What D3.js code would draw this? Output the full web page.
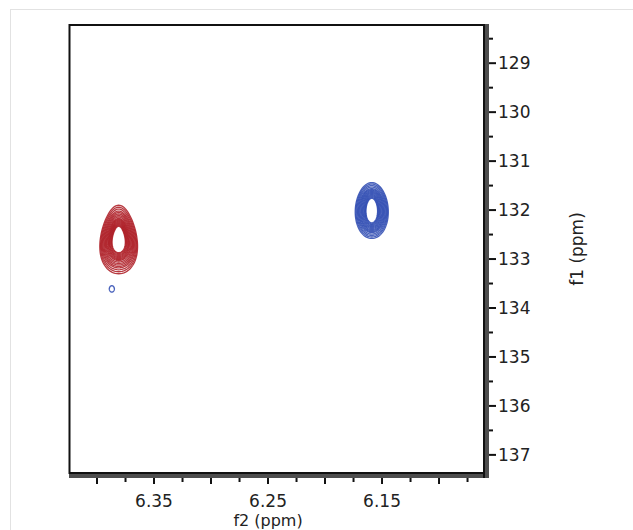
<!DOCTYPE html>
<html>
<head>
<meta charset="utf-8">
<script src="https://cdn.jsdelivr.net/npm/d3@7"></script>
<style>
  body { margin: 0; background: #fff; }
  svg { display: block; font-family: "DejaVu Sans", Verdana, sans-serif; }
</style>
</head>
<body>
<div id="chart"></div>
<script>
// peak centres (f2 ppm, f1 ppm)
var peakNames = ["red", "blue", "blueSmall"];
var peakF2 = [6.381, 6.159, 6.387];
var peakF1 = [132.60, 132.01, 133.61];
// contour ring half widths, outer to inner (ppm)
var redRingsF2 = [0.0162, 0.0155, 0.0148, 0.0141, 0.0134, 0.0127, 0.0120, 0.0113, 0.0106, 0.0099, 0.0092, 0.0086, 0.0080, 0.0074, 0.0068, 0.0062, 0.0057];
var redRingsF1 = [0.70, 0.66, 0.62, 0.58, 0.55, 0.52, 0.49, 0.46, 0.43, 0.41, 0.39, 0.37, 0.35, 0.33, 0.31, 0.29, 0.27];
var blueRingsF2 = [0.0145, 0.0138, 0.0131, 0.0124, 0.0117, 0.0110, 0.0103, 0.0096, 0.0089, 0.0082, 0.0075, 0.0068, 0.0062, 0.0056, 0.0051];
var blueRingsF1 = [0.57, 0.54, 0.51, 0.48, 0.45, 0.43, 0.41, 0.39, 0.37, 0.35, 0.33, 0.31, 0.29, 0.27, 0.25];
var smallRingsF2 = [0.0022];
var smallRingsF1 = [0.065];
var peakColors = ["#ac1820", "#2a48b0", "#2a48b0"];
var peakEgg = [0.22, 0.05, 0]; // how much wider the bottom is than the top

var xTicks = [6.40, 6.375, 6.35, 6.325, 6.30, 6.275, 6.25, 6.225, 6.20, 6.175, 6.15, 6.125, 6.10, 6.075];
var xLabels = [6.35, 6.25, 6.15];
var yTicks = [129, 130, 131, 132, 133, 134, 135, 136, 137];
var yMinor = [128.5, 129.5, 130.5, 131.5, 132.5, 133.5, 134.5, 135.5, 136.5];

var W = 633, H = 530;
var L = 70, T = 25, R = 486, B = 473;

var svg = d3.select("#chart").append("svg")
    .attr("width", W)
    .attr("height", H);

// faint outer frame
svg.append("rect")
    .attr("x", 10.5).attr("y", 9.5)
    .attr("width", 640).attr("height", 540)
    .attr("fill", "none")
    .attr("stroke", "#e2e2e2");

var x = d3.scaleLinear().domain([6.4237, 6.0588]).range([L, R]);
var y = d3.scaleLinear().domain([128.22, 137.37]).range([T, B]);

// plot box
svg.append("rect")
    .attr("x", L - 0.5).attr("y", T)
    .attr("width", R - L).attr("height", B - T)
    .attr("fill", "#fff")
    .attr("stroke", "#111")
    .attr("stroke-width", 2);

// contours
var rings = [
    { f2: redRingsF2, f1: redRingsF1 },
    { f2: blueRingsF2, f1: blueRingsF1 },
    { f2: smallRingsF2, f1: smallRingsF1 }
];

var line = d3.line().curve(d3.curveLinearClosed);

peakNames.forEach(function(name, p) {
    var cx = x(peakF2[p]), cy = y(peakF1[p]);
    var g = svg.append("g").attr("class", "peak " + name);
    rings[p].f2.forEach(function(dx, i) {
        var rx = Math.abs(x(peakF2[p] + dx) - cx);
        var ry = Math.abs(y(peakF1[p] + rings[p].f1[i]) - cy);
        var pts = d3.range(0, 2 * Math.PI, Math.PI / 40).map(function(t) {
            var s = Math.sin(t);
            return [cx + rx * Math.cos(t) * (1 + peakEgg[p] * s), cy + ry * s];
        });
        g.append("path")
            .attr("d", line(pts))
            .attr("fill", "none")
            .attr("stroke", peakColors[p])
            .attr("stroke-width", p == 2 ? 1.4 : 1.3)
            .attr("stroke-opacity", 0.85);
    });
});

// thick bottom and right axis bars
svg.append("rect")
    .attr("x", L - 1).attr("y", B - 1)
    .attr("width", R - L + 3).attr("height", 6)
    .attr("fill", "#4d4d4d");
svg.append("line")
    .attr("x1", L - 1).attr("x2", R + 2)
    .attr("y1", B).attr("y2", B)
    .attr("stroke", "#111").attr("stroke-width", 2);
svg.append("rect")
    .attr("x", R - 3).attr("y", T - 1)
    .attr("width", 6).attr("height", B - T + 6)
    .attr("fill", "#4d4d4d");
svg.append("line")
    .attr("x1", R - 2).attr("x2", R - 2)
    .attr("y1", T - 1).attr("y2", B + 5)
    .attr("stroke", "#111").attr("stroke-width", 2);

// x ticks
svg.selectAll(".xt").data(xTicks).enter().append("line")
    .attr("class", "xt")
    .attr("x1", function(d) { return x(d); })
    .attr("x2", function(d) { return x(d); })
    .attr("y1", B + 5)
    .attr("y2", function(d, i) { return B + (i % 2 == 0 ? 11 : 9); })
    .attr("stroke", "#111")
    .attr("stroke-width", 2);

svg.selectAll(".xl").data(xLabels).enter().append("text")
    .attr("class", "xl")
    .attr("x", function(d) { return x(d); })
    .attr("y", 507)
    .attr("text-anchor", "middle")
    .attr("font-size", 17)
    .attr("fill", "#222")
    .text(function(d) { return d3.format(".2f")(d); });

svg.append("text")
    .attr("x", x(6.25))
    .attr("y", 526)
    .attr("text-anchor", "middle")
    .attr("font-size", 16)
    .attr("fill", "#222")
    .text("f2 (ppm)");

// y ticks
svg.selectAll(".yt").data(yTicks).enter().append("line")
    .attr("class", "yt")
    .attr("x1", R + 3).attr("x2", R + 10)
    .attr("y1", function(d) { return y(d); })
    .attr("y2", function(d) { return y(d); })
    .attr("stroke", "#111")
    .attr("stroke-width", 2);

svg.selectAll(".ym").data(yMinor).enter().append("line")
    .attr("class", "ym")
    .attr("x1", R + 3).attr("x2", R + 7)
    .attr("y1", function(d) { return y(d); })
    .attr("y2", function(d) { return y(d); })
    .attr("stroke", "#111")
    .attr("stroke-width", 2);

svg.selectAll(".yl").data(yTicks).enter().append("text")
    .attr("class", "yl")
    .attr("x", R + 12)
    .attr("y", function(d) { return y(d); })
    .attr("dy", "0.36em")
    .attr("font-size", 17)
    .attr("fill", "#222")
    .text(function(d) { return d; });

svg.append("text")
    .attr("transform", "translate(583," + ((T + B) / 2) + ") rotate(-90)")
    .attr("text-anchor", "middle")
    .attr("font-size", 17)
    .attr("fill", "#222")
    .text("f1 (ppm)");
</script>
</body>
</html>
